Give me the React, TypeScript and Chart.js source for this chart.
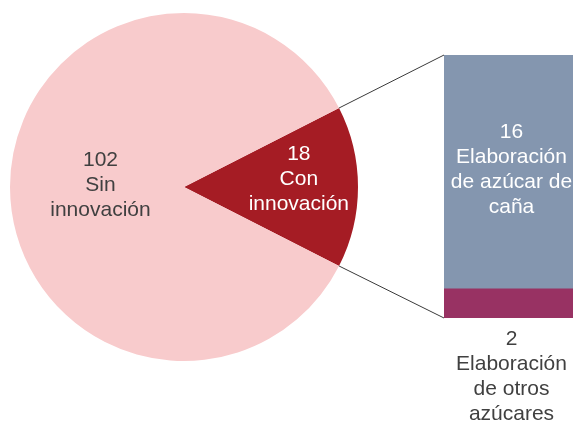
import React, { useEffect, useRef } from "react";
import { Chart, registerables } from "chart.js";

Chart.register(...registerables);

// ---- data ----
const pieNames = ["Con innovación", "Sin innovación"];
const pieNameLines = [["Con", "innovación"], ["Sin", "innovación"]];
const pieValues = [18, 102];

const barNames = ["Elaboración de otros azúcares", "Elaboración de azúcar de caña"];
const barNameLines = [["Elaboración", "de otros", "azúcares"], ["Elaboración", "de azúcar de", "caña"]];
const barValues = [2, 16];

// ---- styles ----
const pieColors = ["#A51C24", "#F8CBCC"];
const pieTextColors = ["#FFFFFF", "#404040"];
const barColors = ["#983263", "#8496AF"];
const barTextColors = ["#404040", "#FFFFFF"];
const FONT = "21px 'Liberation Sans', Arial, sans-serif";
const LINE_H = 25;

const W = 573;
const H = 423;
const BAR_LEFT = 444;
const BAR_TOP = 55;
const BAR_W = 135;
const BAR_H = 368;

export default function App() {
  const pieRef = useRef<HTMLCanvasElement>(null);
  const barRef = useRef<HTMLCanvasElement>(null);

  useEffect(() => {
    if (!pieRef.current || !barRef.current) return;

    const barLabelPlugin = {
      id: "barLabels",
      afterDatasetsDraw(chart: any) {
        const ctx = chart.ctx;
        ctx.save();
        ctx.font = FONT;
        ctx.textAlign = "center";
        ctx.textBaseline = "alphabetic";
        chart.data.datasets.forEach((ds: any, i: number) => {
          const el = chart.getDatasetMeta(i).data[0];
          if (!el) return;
          const lines = [String(barValues[i]), ...barNameLines[i]];
          ctx.fillStyle = barTextColors[i];
          let firstBaseline: number;
          if (i === 0) {
            // below the bar
            firstBaseline = el.base + 27;
          } else {
            const mid = (el.y + el.base) / 2;
            firstBaseline = mid - 34;
          }
          lines.forEach((t, k) => ctx.fillText(t, el.x, firstBaseline + k * LINE_H));
        });
        ctx.restore();
      },
    };

    const barChart = new Chart(barRef.current, {
      type: "bar",
      data: {
        labels: ["Con innovación"],
        datasets: barValues.map((v, i) => ({
          label: barNames[i],
          data: [v],
          backgroundColor: barColors[i],
          borderWidth: 0,
          categoryPercentage: 1,
          barPercentage: 1,
        })),
      },
      options: {
        responsive: false,
        maintainAspectRatio: false,
        animation: false,
        events: [],
        layout: { padding: { left: 0, right: 0, top: 0, bottom: BAR_H - 263 } },
        plugins: { legend: { display: false }, tooltip: { enabled: false } },
        scales: {
          x: { stacked: true, display: false },
          y: { stacked: true, display: false, min: 0, max: 18 },
        },
      },
      plugins: [barLabelPlugin],
    });

    const pieLabelPlugin = {
      id: "pieLabels",
      afterDatasetsDraw(chart: any) {
        const ctx = chart.ctx;
        const meta = chart.getDatasetMeta(0);
        const fr = [0.66, 0.48];
        const dy = [-8, -2];
        ctx.save();
        ctx.font = FONT;
        ctx.textAlign = "center";
        ctx.textBaseline = "middle";
        meta.data.forEach((arc: any, i: number) => {
          const mid = (arc.startAngle + arc.endAngle) / 2;
          const r = arc.outerRadius * fr[i];
          const cx = arc.x + Math.cos(mid) * r;
          const cy = arc.y + Math.sin(mid) * r + dy[i];
          const lines = [String(pieValues[i]), ...pieNameLines[i]];
          ctx.fillStyle = pieTextColors[i];
          lines.forEach((t, k) =>
            ctx.fillText(t, cx, cy + (k - (lines.length - 1) / 2) * LINE_H)
          );
        });

        // connector lines from the "Con innovación" slice to the bar
        const arc = meta.data[0];
        const pieRect = chart.canvas.getBoundingClientRect();
        const barRect = barChart.canvas.getBoundingClientRect();
        const ox = barRect.left - pieRect.left;
        const oy = barRect.top - pieRect.top;
        const topEl: any = barChart.getDatasetMeta(1).data[0];
        const botEl: any = barChart.getDatasetMeta(0).data[0];
        const bx = ox + topEl.x - topEl.width / 2;
        const p1 = [arc.x + Math.cos(arc.startAngle) * arc.outerRadius, arc.y + Math.sin(arc.startAngle) * arc.outerRadius];
        const p2 = [arc.x + Math.cos(arc.endAngle) * arc.outerRadius, arc.y + Math.sin(arc.endAngle) * arc.outerRadius];
        ctx.strokeStyle = "#3A3A3A";
        ctx.lineWidth = 1;
        ctx.beginPath();
        ctx.moveTo(p1[0], p1[1]);
        ctx.lineTo(bx, oy + topEl.y);
        ctx.moveTo(p2[0], p2[1]);
        ctx.lineTo(bx, oy + botEl.base);
        ctx.stroke();
        ctx.restore();
      },
    };

    const pieChart = new Chart(pieRef.current, {
      type: "pie",
      data: {
        labels: pieNames,
        datasets: [
          {
            data: pieValues,
            backgroundColor: pieColors,
            borderWidth: 0,
            hoverOffset: 0,
          },
        ],
      },
      options: {
        responsive: false,
        maintainAspectRatio: false,
        animation: false,
        events: [],
        rotation: 63,
        radius: 174,
        layout: { padding: { left: 0, top: 0, right: W - 368, bottom: H - 374 } },
        plugins: { legend: { display: false }, tooltip: { enabled: false } },
      },
      plugins: [pieLabelPlugin],
    });

    return () => {
      pieChart.destroy();
      barChart.destroy();
    };
  }, []);

  return (
    <div
      style={{
        position: "absolute",
        left: 0,
        top: 0,
        width: W,
        height: H,
        overflow: "hidden",
        background: "#FFFFFF",
      }}
    >
      <canvas
        ref={barRef}
        width={BAR_W}
        height={BAR_H}
        style={{ position: "absolute", left: BAR_LEFT, top: BAR_TOP, width: BAR_W, height: BAR_H }}
      />
      <canvas
        ref={pieRef}
        width={W}
        height={H}
        style={{ position: "absolute", left: 0, top: 0, width: W, height: H }}
      />
    </div>
  );
}
